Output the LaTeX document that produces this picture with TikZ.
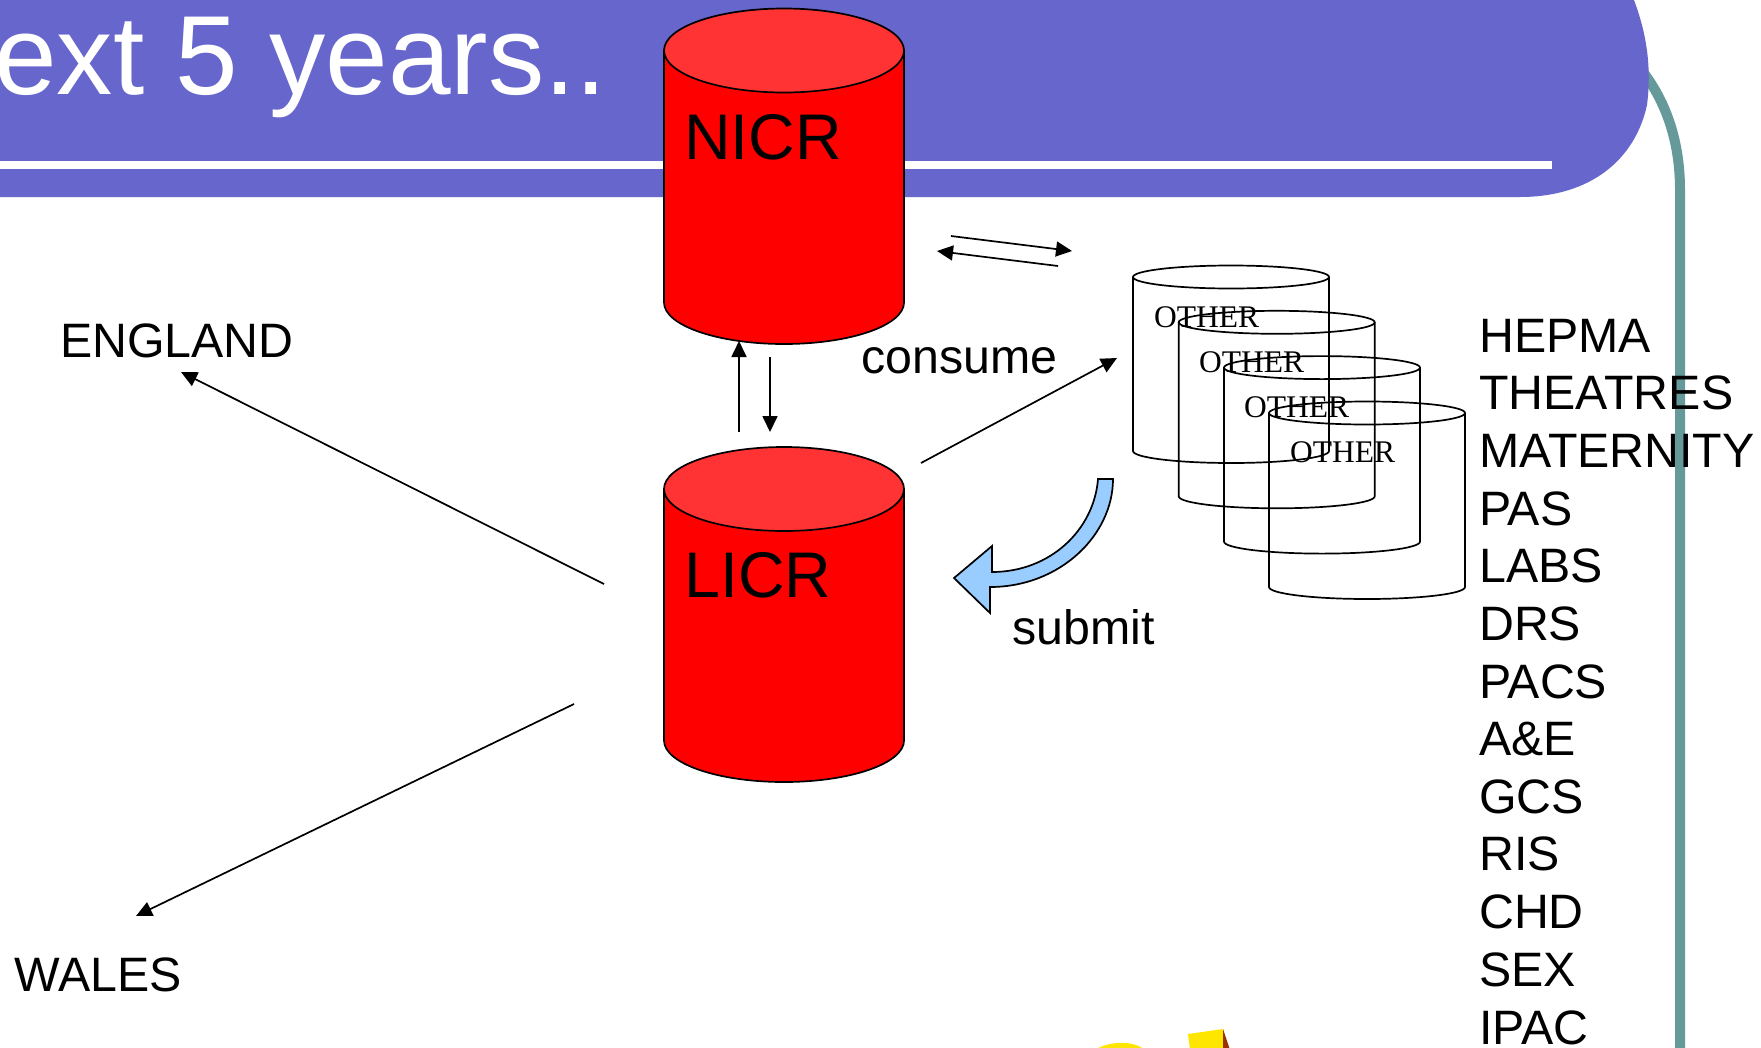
\documentclass[tikz,border=0pt]{standalone}
\usepackage{fontspec}
\setmainfont{Liberation Sans}
\newfontfamily\otherfont{Liberation Serif}
\usetikzlibrary{arrows.meta}
\definecolor{bandc}{HTML}{6666CC}
\definecolor{railc}{HTML}{669999}
\definecolor{topc}{HTML}{FF3333}
\definecolor{blockc}{HTML}{99CCFF}
\definecolor{yellowc}{HTML}{FFE600}
\definecolor{brownc}{HTML}{993300}
\tikzset{
  x=1pt,y=-1pt,
  lbl/.style={anchor=base west,inner sep=0pt,font=\fontsize{48.3}{50}\selectfont,text=black},
  dbname/.style={anchor=base west,inner sep=0pt,font=\fontsize{64.5}{66}\selectfont,text=black},
  otherlbl/.style={anchor=base west,inner sep=0pt,font=\otherfont\fontsize{31.5}{34}\selectfont,text=black},
  link/.style={draw=black,line width=1.7pt,-{Triangle[length=16pt,width=15pt]}},
  redcyl/.style={draw=black,line width=1.7pt,fill=red},
  redtop/.style={draw=black,line width=1.7pt,fill=topc},
  thincyl/.style={draw=black,line width=1.7pt},
}
\newcommand{\redcylinder}[2]{%
  \path[redcyl] (664,#1) -- (664,#2) arc[start angle=180,end angle=360,x radius=120,y radius=-41.5] -- (904,#1) -- cycle;
  \path[redtop] (784,#1) ellipse[x radius=120,y radius=42];
}
\newcommand{\othercyl}[2]{%
  \draw[thincyl] (#1,#2) -- (#1,#2+174) arc[start angle=180,end angle=360,x radius=98,y radius=-12] -- (#1+196,#2) ;
  \draw[thincyl] (#1+98,#2) ellipse[x radius=98,y radius=11.5];
}
\begin{document}
\begin{tikzpicture}
\useasboundingbox (0,0) rectangle (1761,1047);
\clip (0,0) rectangle (1761,1047);
\fill[white] (0,0) rectangle (1761,1047);
% green rail
\draw[railc,line width=10pt] (1640,68) .. controls (1668,103) and (1680,145) .. (1680,190) -- (1680,1060);
% title band
\fill[bandc] (-5,-5) -- (1632,-5) .. controls (1646,30) and (1652,65) .. (1647,105) .. controls (1635,160) and (1590,197) .. (1520,197) -- (-5,197) -- cycle;
\fill[white] (-5,161) rectangle (1552,169);
\node[anchor=base west,inner sep=0pt,font=\fontsize{112.5}{115}\selectfont,text=white] (title) at (-6,94.5) {ext 5 years..};
% red cylinders
\redcylinder{50.5}{302.5}
\node[dbname] (nicr) at (684,159.5) {NICR};
\redcylinder{489}{740.5}
\node[dbname] (licr) at (684,597.5) {LICR};
% other stack
\node[otherlbl] (o1) at (1154,327) {OTHER};
\othercyl{1133}{277}
\node[otherlbl] (o2) at (1199,372.5) {OTHER};
\othercyl{1178.7}{322.3}
\node[otherlbl] (o3) at (1244,417.5) {OTHER};
\othercyl{1224}{367.6}
\node[otherlbl] (o4) at (1290,462) {OTHER};
\othercyl{1269}{413}
% labels
\node[lbl] (england) at (60,357) {ENGLAND};
\node[lbl] (wales) at (14,991) {WALES};
\node[lbl] (consume) at (861,373) {consume};
\node[lbl] (submit) at (1012,644) {submit};
\node[lbl] (l1) at (1479,352) {HEPMA};
\node[lbl] (l2) at (1479,409.7) {THEATRES};
\node[lbl] (l3) at (1479,467.4) {MATERNITY};
\node[lbl] (l4) at (1479,525) {PAS};
\node[lbl] (l5) at (1479,582) {LABS};
\node[lbl] (l6) at (1479,640) {DRS};
\node[lbl] (l7) at (1479,698) {PACS};
\node[lbl] (l8) at (1479,755) {A\&E};
\node[lbl] (l9) at (1479,813) {GCS};
\node[lbl] (l10) at (1479,870) {RIS};
\node[lbl] (l11) at (1479,928) {CHD};
\node[lbl] (l12) at (1479,986) {SEX};
\node[lbl] (l13) at (1479,1044) {IPAC};
% connector ends
\coordinate (a1s) at (951,236); \coordinate (a1e) at (1072,251);
\coordinate (a2s) at (1058,266); \coordinate (a2e) at (937,251);
\coordinate (a3s) at (921,463); \coordinate (a3e) at (1117,358);
\coordinate (a4s) at (739,432); \coordinate (a4e) at (739,341);
\coordinate (a5s) at (770,357); \coordinate (a5e) at (770,432);
\coordinate (a6s) at (604,584); \coordinate (a6e) at (181,372);
\coordinate (a7s) at (574,704); \coordinate (a7e) at (136,916);
\draw[link] (a1s) -- (a1e);
\draw[link] (a2s) -- (a2e);
\draw[link] (a3s) -- (a3e);
\draw[link] (a4s) -- (a4e);
\draw[link] (a5s) -- (a5e);
\draw[link] (a6s) -- (a6e);
\draw[link] (a7s) -- (a7e);
% curved block arrow
\draw[black,line width=1.7pt,fill=blockc,line join=miter]
  (1098,479) .. controls (1094,530) and (1050,572) .. (992,572)
  -- (992,546) -- (954,578) -- (990,613) -- (990,587)
  .. controls (1060,587) and (1113,535) .. (1113,479) -- cycle;
% yellow fragments at the lower edge
\fill[yellowc] (1188,1034) -- (1223,1029) -- (1223,1050) -- (1190,1050) -- cycle;
\fill[brownc] (1223,1029) -- (1230,1050) -- (1223,1050) -- cycle;
\fill[yellowc] (1095,1050) .. controls (1105,1043) and (1130,1038) .. (1145,1050) -- cycle;
\end{tikzpicture}
\end{document}
